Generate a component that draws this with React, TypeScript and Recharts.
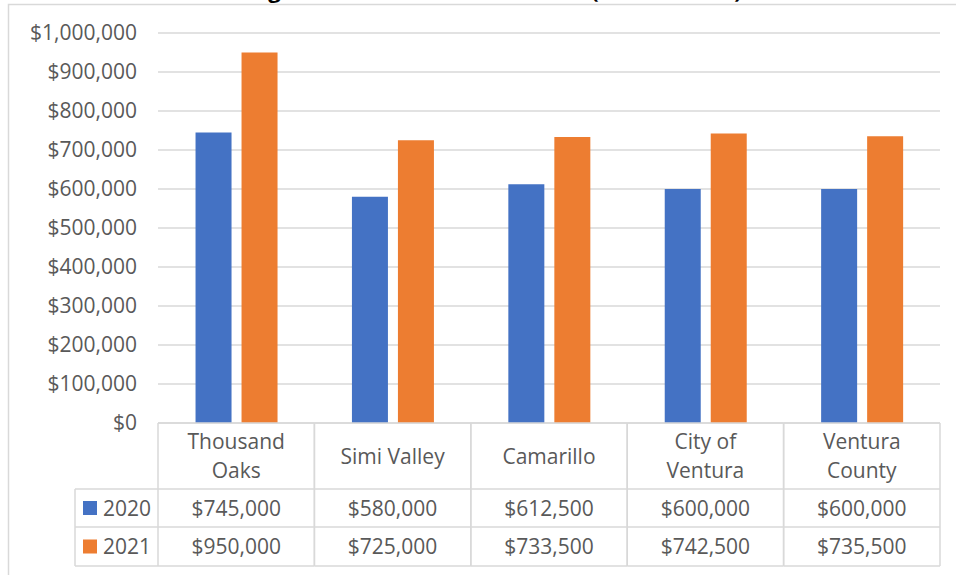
import { BarChart, Bar, XAxis, YAxis, CartesianGrid } from "recharts";

const categories = ["Thousand Oaks", "Simi Valley", "Camarillo", "City of Ventura", "Ventura County"];
const prices2020 = [745000, 580000, 612500, 600000, 600000];
const prices2021 = [950000, 725000, 733500, 742500, 735500];
const yTicks = [0, 100000, 200000, 300000, 400000, 500000, 600000, 700000, 800000, 900000, 1000000];

const series = [
  { key: "y2020", name: "2020", color: "#4472C4", values: prices2020 },
  { key: "y2021", name: "2021", color: "#ED7D31", values: prices2021 },
];

const data = categories.map((name, i) => ({
  name,
  y2020: prices2020[i],
  y2021: prices2021[i],
}));

const W = 956;
const H = 575;
const margin = { top: 33, right: 16, bottom: 9, left: 8 };
const yAxisWidth = 150;
const tableHeight = 143;
const headerH = 66;
const rowH = [38, 39];
const plotWidth = W - margin.left - margin.right - yAxisWidth;
const cellW = plotWidth / categories.length;

const FONT = "'Open Sans', sans-serif";
const TEXT = "#595959";
const LINE = "#d9d9d9";

const money = (v: number) => "$" + v.toLocaleString("en-US");

// Excel-style wrapping of the category names in the header cells
function wrap(label: string, max = 11) {
  const lines: string[] = [];
  let cur = "";
  for (const w of label.split(" ")) {
    const next = cur ? cur + " " + w : w;
    if (next.length > max && cur) {
      lines.push(cur);
      cur = w;
    } else {
      cur = next;
    }
  }
  if (cur) lines.push(cur);
  return lines;
}

function TableTick(props: any) {
  const { x, y, payload } = props;
  const i = props.index ?? payload.index;
  const left = x - cellW / 2;
  const right = x + cellW / 2;
  const lines = wrap(String(payload.value));
  const headerMid = y + headerH / 2;
  const lineGap = 29;
  const rowTops = [y + headerH, y + headerH + rowH[0]];
  const bottom = y + tableHeight;
  const textStyle = { fontFamily: FONT, fontSize: 21, fill: TEXT };

  return (
    <g>
      <line x1={left} x2={right} y1={y} y2={y} stroke={LINE} strokeWidth={1.5} />
      <line x1={left} x2={right} y1={rowTops[0]} y2={rowTops[0]} stroke={LINE} strokeWidth={1.5} />
      <line x1={left} x2={right} y1={rowTops[1]} y2={rowTops[1]} stroke={LINE} strokeWidth={1.5} />
      <line x1={left} x2={right} y1={bottom} y2={bottom} stroke={LINE} strokeWidth={1.5} />
      <line x1={left} x2={left} y1={y} y2={bottom} stroke={LINE} strokeWidth={1.5} />
      <line x1={right} x2={right} y1={y} y2={bottom} stroke={LINE} strokeWidth={1.5} />
      {lines.map((ln, k) => (
        <text
          key={ln}
          x={x}
          y={headerMid + 7.5 + (k - (lines.length - 1) / 2) * lineGap}
          textAnchor="middle"
          {...textStyle}
        >
          {ln}
        </text>
      ))}
      {series.map((s, r) => (
        <text
          key={s.key}
          x={x}
          y={rowTops[r] + rowH[r] / 2 + 7.5}
          textAnchor="middle"
          {...textStyle}
        >
          {money(s.values[i])}
        </text>
      ))}
      {i === 0 && (
        <g>
          <line x1={75} x2={left} y1={rowTops[0]} y2={rowTops[0]} stroke={LINE} strokeWidth={1.5} />
          <line x1={75} x2={left} y1={rowTops[1]} y2={rowTops[1]} stroke={LINE} strokeWidth={1.5} />
          <line x1={75} x2={left} y1={bottom} y2={bottom} stroke={LINE} strokeWidth={1.5} />
          <line x1={75} x2={75} y1={rowTops[0]} y2={bottom} stroke={LINE} strokeWidth={1.5} />
          {series.map((s, r) => (
            <g key={s.key}>
              <rect x={83} y={rowTops[r] + rowH[r] / 2 - 7} width={14} height={14} fill={s.color} />
              <text x={103} y={rowTops[r] + rowH[r] / 2 + 7.5} textAnchor="start" {...textStyle}>
                {s.name}
              </text>
            </g>
          ))}
        </g>
      )}
    </g>
  );
}

export default function App() {
  return (
    <div
      style={{
        position: "absolute",
        left: 0,
        top: 0,
        width: W,
        height: H,
        overflow: "hidden",
        background: "#fff",
      }}
    >
      <svg
        width={W}
        height={H}
        style={{ position: "absolute", left: 0, top: 0, pointerEvents: "none" }}
      >
        <path d={`M8.5,${H} V4.5 H${W}`} fill="none" stroke={LINE} strokeWidth={1.5} />
        <text
          x={473}
          y={-2}
          textAnchor="middle"
          fontFamily={FONT}
          fontWeight="bold"
          fontSize={22}
          fill="#000"
        >
          Average Median Home Sales Prices (2020 vs 2021)
        </text>
      </svg>
      <BarChart
        width={W}
        height={H}
        data={data}
        margin={margin}
        barCategoryGap="24%"
        barGap={10}
      >
        <CartesianGrid vertical={false} stroke={LINE} strokeWidth={1.5} />
        <XAxis
          dataKey="name"
          interval={0}
          height={tableHeight}
          axisLine={false}
          tickLine={false}
          tickSize={0}
          tickMargin={0}
          tick={<TableTick />}
        />
        <YAxis
          type="number"
          domain={[0, 1000000]}
          ticks={yTicks}
          width={yAxisWidth}
          axisLine={false}
          tickLine={false}
          tickSize={0}
          tickMargin={21}
          tickFormatter={money}
          tick={{ fontFamily: FONT, fontSize: 21, fill: TEXT }}
        />
        {series.map((s) => (
          <Bar key={s.key} dataKey={s.key} name={s.name} fill={s.color} isAnimationActive={false} />
        ))}
      </BarChart>
    </div>
  );
}
